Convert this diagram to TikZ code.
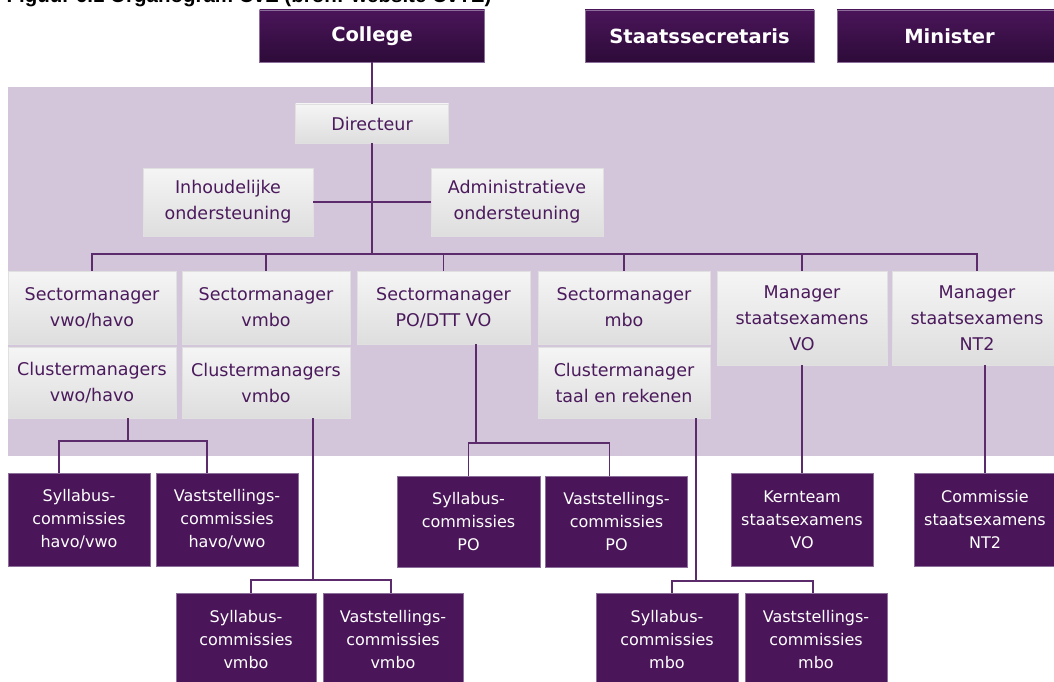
\documentclass[tikz,border=0pt]{standalone}
\usepackage{fontspec}
\setmainfont{DejaVu Sans}
\newfontfamily\titlefont{Liberation Sans}

\definecolor{paars}{HTML}{4A1559}
\definecolor{paarsdonker}{HTML}{2D0B39}
\definecolor{paarsrand}{HTML}{8C6E9A}
\definecolor{band}{HTML}{D3C6DA}
\definecolor{lijn}{HTML}{5B2B6B}
\definecolor{tekstpaars}{HTML}{4B1A5C}

\begin{document}
\begin{tikzpicture}[x=1pt,y=-1pt,
  headbox/.style={draw=paarsrand,line width=0.8pt,top color=paars,bottom color=paarsdonker,
    text=white,font=\bfseries\fontsize{19.5}{23}\selectfont,
    minimum width=225pt,minimum height=52pt,inner sep=0pt},
  greybox/.style={draw=black!12,line width=0.6pt,top color=black!4,bottom color=black!13,
    text=tekstpaars,font=\fontsize{17.5}{26}\selectfont,align=center,inner sep=0pt},
  sectorbox/.style={greybox,minimum width=168pt,minimum height=73pt},
  commbox/.style={draw=paarsrand,line width=0.8pt,fill=paars,text=white,
    font=\fontsize{16}{23}\selectfont,align=center,
    minimum width=142pt,minimum height=93pt,inner sep=0pt},
  verbinding/.style={draw=lijn,line width=1.5pt}]

\useasboundingbox[fill=white] (0,0) rectangle (1054,682);
\fill[band] (8,87) rectangle (1060,456);

\node[anchor=base west,font=\titlefont\bfseries\fontsize{20.5}{24}\selectfont] (titel) at (3,3)
  {Figuur 6.1 Organogram CvE (bron: website CvTE)};

% top
\node[headbox] (college) at (372,36) {College};
\node[headbox,minimum width=229pt] (staats) at (699.5,36) {Staatssecretaris};
\node[headbox] (minister) at (949.5,36) {Minister};

% directie
\node[greybox,minimum width=153pt,minimum height=39pt] (dir) at (372,123.5) {Directeur};
\node[greybox,minimum width=170pt,minimum height=68pt] (inh) at (228,202) {Inhoudelijke\\ondersteuning};
\node[greybox,minimum width=172pt,minimum height=68pt] (adm) at (517,202) {Administratieve\\ondersteuning};
\coordinate (bus) at (372,254);

% managers
\node[sectorbox] (sm1) at (92,307.5) {Sectormanager\\vwo/havo};
\node[sectorbox] (sm2) at (266,307.5) {Sectormanager\\vmbo};
\node[sectorbox,minimum width=173pt] (sm3) at (443.5,307.5) {Sectormanager\\PO/DTT VO};
\node[sectorbox,minimum width=172pt] (sm4) at (624,307.5) {Sectormanager\\mbo};
\node[sectorbox,minimum width=170pt,minimum height=94pt] (sm5) at (802,318) {Manager\\staatsexamens\\VO};
\node[sectorbox,minimum width=170pt,minimum height=94pt] (sm6) at (977,318) {Manager\\staatsexamens\\NT2};
\node[sectorbox,minimum height=71pt] (cm1) at (92,382.5) {Clustermanagers\\vwo/havo};
\node[sectorbox,minimum height=71pt] (cm2) at (266,382.5) {Clustermanagers\\vmbo};
\node[sectorbox,minimum width=172pt,minimum height=71pt] (cm4) at (624,382.5) {Clustermanager\\taal en rekenen};

% commissies
\node[commbox] (sh1) at (79,519.5) {Syllabus-\\commissies\\havo/vwo};
\node[commbox] (vh1) at (227,519.5) {Vaststellings-\\commissies\\havo/vwo};
\node[commbox,minimum width=143pt,minimum height=91pt] (sp) at (468.5,521.5) {Syllabus-\\commissies\\PO};
\node[commbox,minimum height=91pt] (vp) at (616.5,521.5) {Vaststellings-\\commissies\\PO};
\node[commbox] (kt) at (802,519.5) {Kernteam\\staatsexamens\\VO};
\node[commbox] (cn) at (985,519.5) {Commissie\\staatsexamens\\NT2};
\node[commbox,minimum width=140pt] (sv) at (246,639.5) {Syllabus-\\commissies\\vmbo};
\node[commbox,minimum width=140pt] (vv) at (393,639.5) {Vaststellings-\\commissies\\vmbo};
\node[commbox] (smb) at (667,639.5) {Syllabus-\\commissies\\mbo};
\node[commbox] (vmb) at (816,639.5) {Vaststellings-\\commissies\\mbo};

% lijnen
\draw[verbinding] (college) -- (dir);
\draw[verbinding] (dir) -- (bus);
\draw[verbinding] (inh) -- (adm);
\draw[verbinding] (sm1.north) |- (sm6.north |- bus) -- (sm6.north);
\foreach \s in {sm2,sm3,sm4,sm5}
  \draw[verbinding] (\s.north) -- (\s.north |- bus);

\coordinate (j1) at (128,441);
\draw[verbinding] (cm1.south -| j1) -- (j1);
\draw[verbinding] ([xshift=-20pt]sh1.north) |- (j1) -| ([xshift=-20pt]vh1.north);

\coordinate (j2) at (313,580);
\draw[verbinding] (cm2.south -| j2) -- (j2);
\draw[verbinding] ([xshift=5pt]sv.north) |- (j2) -| ([xshift=-2pt]vv.north);

\coordinate (j3) at (476,443);
\draw[verbinding] (sm3.south -| j3) -- (j3);
\draw[verbinding] (sp.north) |- (j3) -| ([xshift=-7pt]vp.north);

\coordinate (j4) at (696,581);
\draw[verbinding] (cm4.south -| j4) -- (j4);
\draw[verbinding] ([xshift=5pt]smb.north) |- (j4) -| ([xshift=-3pt]vmb.north);

\draw[verbinding] (sm5) -- (kt);
\draw[verbinding] (cn.north) -- (cn.north |- sm6.south);

\end{tikzpicture}
\end{document}
